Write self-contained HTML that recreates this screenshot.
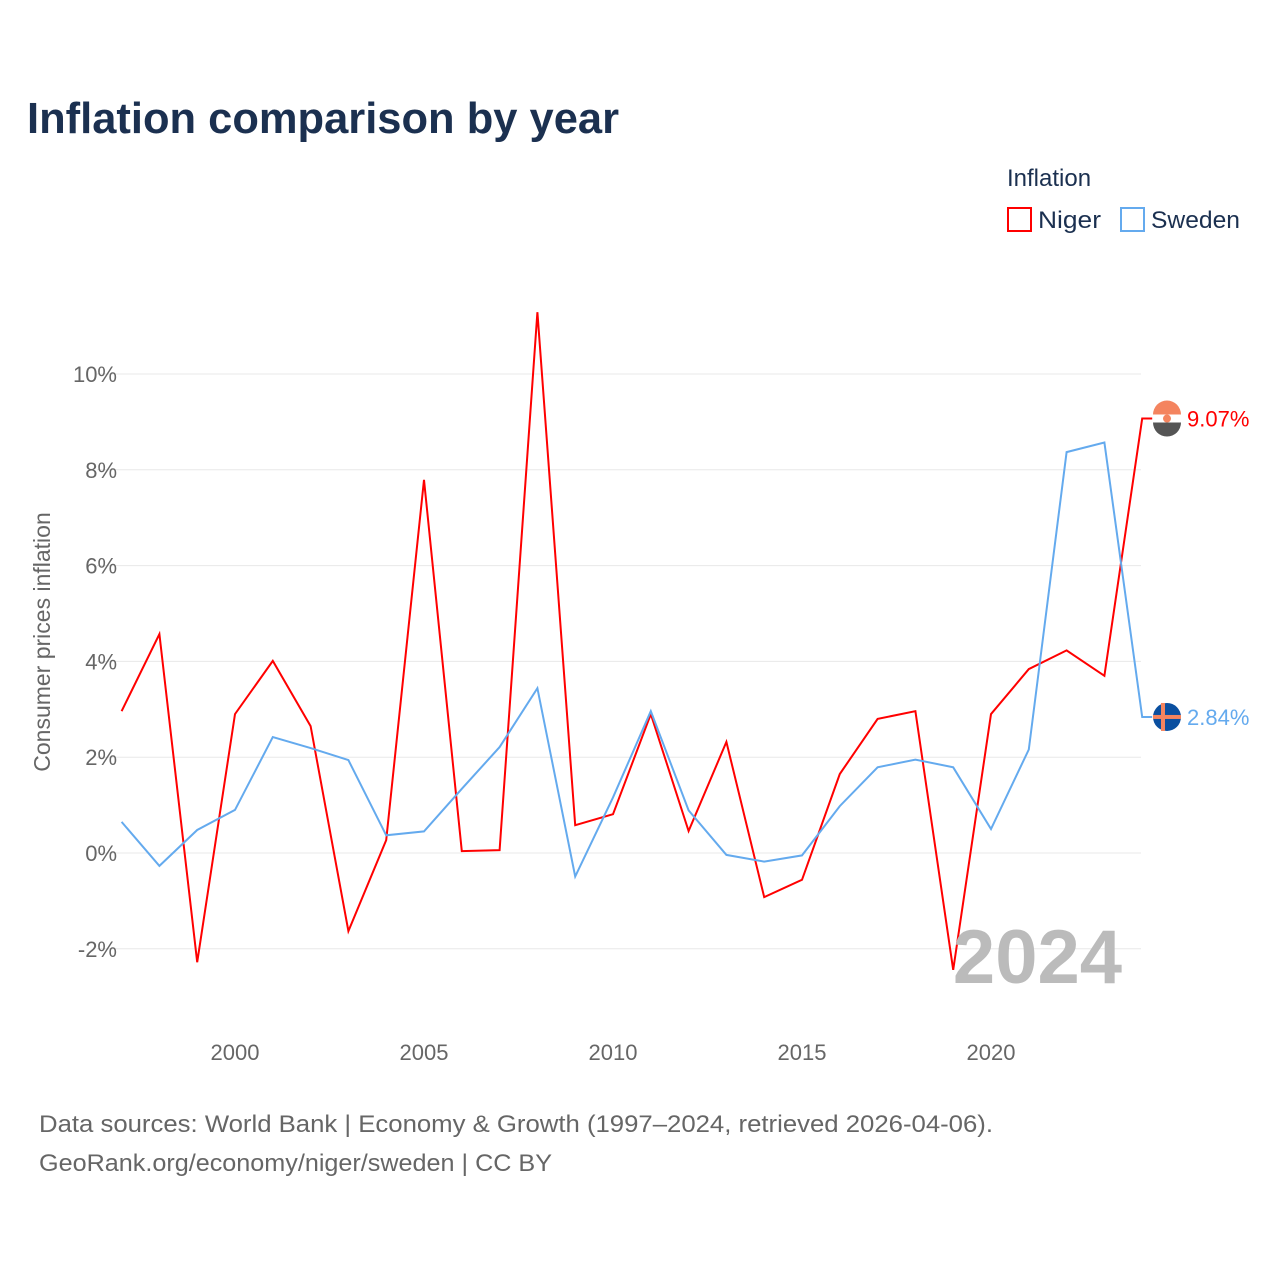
<!DOCTYPE html>
<html><head><meta charset="utf-8"><style>
body{margin:0;background:#fff;font-family:"Liberation Sans",sans-serif}
</style></head><body>
<svg width="1280" height="1280" xmlns="http://www.w3.org/2000/svg" id="svg" font-family="Liberation Sans, sans-serif">
<rect width="1280" height="1280" fill="#fff"/>
<text x="27" y="133" font-size="44" font-weight="bold" fill="#1b3050" textLength="592" lengthAdjust="spacingAndGlyphs">Inflation comparison by year</text>
<text x="1007" y="186" font-size="24" fill="#1b3050">Inflation</text>
<g><rect x="1008" y="208" width="23" height="23" fill="none" stroke="#ff0000" stroke-width="2"/><text x="1038" y="228" font-size="24" fill="#1b3050" textLength="63" lengthAdjust="spacingAndGlyphs">Niger</text></g>
<g><rect x="1121" y="208" width="23" height="23" fill="none" stroke="#64aaee" stroke-width="2"/><text x="1151" y="228" font-size="24" fill="#1b3050" textLength="89" lengthAdjust="spacingAndGlyphs">Sweden</text></g>
<text transform="translate(50,642) rotate(-90)" text-anchor="middle" font-size="23" fill="#666">Consumer prices inflation</text>
<g id="grid"></g><g id="ylab"></g><g id="xlab"></g><g id="lines"></g>
<text x="1122" y="983" text-anchor="end" font-size="76" font-weight="bold" fill="#bbb">2024</text>
<text x="39" y="1132" font-size="24" fill="#666" textLength="954" lengthAdjust="spacingAndGlyphs">Data sources: World Bank | Economy &amp; Growth (1997–2024, retrieved 2026-04-06).</text>
<text x="39" y="1171" font-size="24" fill="#666" textLength="513" lengthAdjust="spacingAndGlyphs">GeoRank.org/economy/niger/sweden | CC BY</text>
</svg>
<script>
const years=[1997,1998,1999,2000,2001,2002,2003,2004,2005,2006,2007,2008,2009,2010,2011,2012,2013,2014,2015,2016,2017,2018,2019,2020,2021,2022,2023,2024];
const niger=[2.96,4.57,-2.28,2.90,4.01,2.65,-1.63,0.27,7.79,0.04,0.06,11.29,0.58,0.81,2.90,0.46,2.32,-0.92,-0.56,1.65,2.80,2.96,-2.44,2.90,3.84,4.23,3.70,9.07];
const sweden=[0.65,-0.27,0.48,0.90,2.42,2.19,1.94,0.37,0.45,1.34,2.21,3.44,-0.49,1.16,2.96,0.89,-0.04,-0.18,-0.05,0.98,1.79,1.95,1.79,0.50,2.16,8.37,8.57,2.84];
const yTicks=[-2,0,2,4,6,8,10];
const xTicks=[2000,2005,2010,2015,2020];
const NS="http://www.w3.org/2000/svg";
const X=y=>235+(y-2000)*37.8;
const Y=v=>853-v*47.9;
function mk(t,a,p){const e=document.createElementNS(NS,t);for(const k in a)e.setAttribute(k,a[k]);p.appendChild(e);return e;}
const G=document.getElementById('grid'),YL=document.getElementById('ylab'),XL=document.getElementById('xlab'),L=document.getElementById('lines');
yTicks.forEach(v=>{
 const l=mk('line',{x1:97,x2:1141,y1:Y(v),y2:Y(v),stroke:'#e8e8e8','stroke-width':1},G);
 
 
 const t=mk('text',{x:117,y:Y(v)+8,'text-anchor':'end','font-size':22,fill:'#666'},YL);
 t.textContent=v+'%';
 
 
});
xTicks.forEach(v=>{
 const t=mk('text',{x:X(v),y:1060,'text-anchor':'middle','font-size':22,fill:'#666'},XL);
 t.textContent=v;
 
 
});
function series(vals,color,name){
 let d=vals.map((v,i)=>(i?'L':'M')+X(years[i]).toFixed(1)+','+Y(v).toFixed(1)).join(' ');
 const last=vals[vals.length-1];
 d+=' L'+(X(years[years.length-1])+10)+','+Y(last).toFixed(1);
 const p=mk('path',{d:d,fill:'none',stroke:color,'stroke-width':2},L);
 
 
 const t=mk('text',{x:1187,y:Y(last)+8,'font-size':22,fill:color},L);
 t.textContent=last.toFixed(2)+'%';
 
 
 return Y(last);
}
const yn=series(niger,'#ff0000','niger');
const ys=series(sweden,'#64aaee','sweden');
const f1=mk('g',{},L);


mk('circle',{cx:1167,cy:yn,r:14,fill:'#fff'},f1);
mk('path',{d:`M1153,${yn-4} A14,14 0 0 1 1181,${yn-4} Z`,fill:'#f4845f'},f1);
mk('path',{d:`M1153,${yn+4} A14,14 0 0 0 1181,${yn+4} Z`,fill:'#555'},f1);
mk('circle',{cx:1167,cy:yn,r:4,fill:'#f4845f'},f1);
const f2=mk('g',{},L);


mk('circle',{cx:1167,cy:ys,r:14,fill:'#0a4fa0'},f2);
mk('rect',{x:1153,y:ys-2,width:28,height:4,fill:'#f4845f'},f2);
mk('rect',{x:1161,y:ys-14,width:4,height:28,fill:'#f4845f'},f2);
</script>
</body></html>
